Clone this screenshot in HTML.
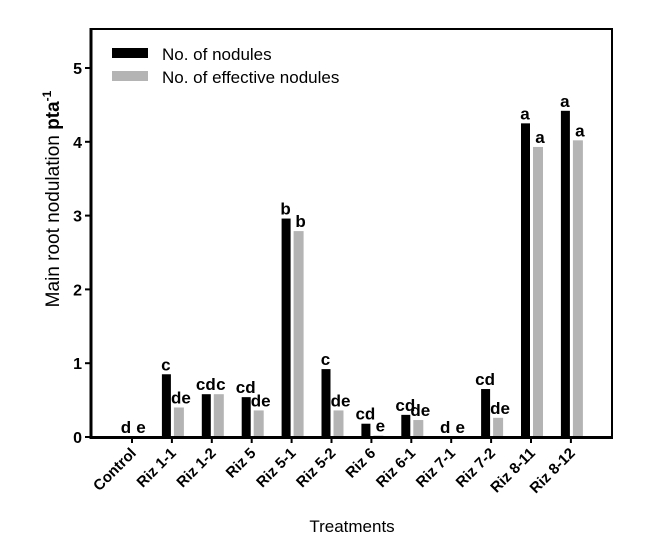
<!DOCTYPE html>
<html><head><meta charset="utf-8"><style>
body{margin:0;background:#fff;}
svg{display:block;font-family:"Liberation Sans",sans-serif;}
</style></head><body>
<svg id="chart" width="650" height="551">
<g id="bars"></g>
<rect x="91" y="29" width="521" height="408" fill="none" stroke="#000" stroke-width="2"/>
<line x1="91" y1="28" x2="91" y2="439" stroke="#000" stroke-width="3"/>
<line x1="90" y1="437.5" x2="613" y2="437.5" stroke="#000" stroke-width="3"/>
<g>
<rect x="112" y="48" width="36" height="10" fill="#000"/>
<text x="162" y="60" font-size="17">No. of nodules</text>
<rect x="112" y="71" width="36" height="10" fill="#b4b4b4"/>
<text x="162" y="83" font-size="17">No. of effective nodules</text>
</g>
<text transform="rotate(-90 59 199)" x="59" y="199" font-size="19" text-anchor="middle">Main root nodulation <tspan font-weight="bold">pta</tspan><tspan font-weight="bold" font-size="12" dy="-8">-1</tspan></text>
<text x="352" y="532" font-size="17" text-anchor="middle">Treatments</text>
<g id="axes"></g>
</svg>
<script>
const categories=["Control","Riz 1-1","Riz 1-2","Riz 5","Riz 5-1","Riz 5-2","Riz 6","Riz 6-1","Riz 7-1","Riz 7-2","Riz 8-11","Riz 8-12"];
const nodules=[0,0.85,0.58,0.54,2.96,0.92,0.18,0.30,0,0.65,4.25,4.42];
const effective=[0,0.40,0.58,0.36,2.79,0.36,0.02,0.23,0,0.26,3.93,4.02];
const nodLetters=["d","c","cd","cd","b","c","cd","cd","d","cd","a","a"];
const effLetters=["e","de","c","de","b","de","e","de","e","de","a","a"];
const yTicks=[0,1,2,3,4,5];
const NS="http://www.w3.org/2000/svg";
const svg=document.getElementById('axes');
const X0=91,Y0=437;
const y=v=>Y0-v*73.8;
const xt=i=>132+i*39.9;
function mk(t,a,p){const e=document.createElementNS(NS,t);for(const k in a)e.setAttribute(k,a[k]);(p||svg).appendChild(e);return e;}
const bars=document.getElementById('bars');
categories.forEach((c,i)=>{
  const t=xt(i);
  const b=mk('rect',{x:t-10,y:y(nodules[i]),width:9,height:Y0-y(nodules[i]),fill:'#000'},bars);
  
  
  const g=mk('rect',{x:t+2,y:y(effective[i]),width:10,height:Y0-y(effective[i]),fill:'#b4b4b4'},bars);
  
  
  const l1=mk('text',{x:t-6,y:y(nodules[i])-4,'font-size':17,'font-weight':'bold','text-anchor':'middle'},bars);
  l1.textContent=nodLetters[i];
  
  
  const l2=mk('text',{x:t+9,y:y(effective[i])-4,'font-size':17,'font-weight':'bold','text-anchor':'middle'},bars);
  l2.textContent=effLetters[i];
  
  
  const tk=mk('line',{x1:t,x2:t,y1:Y0,y2:Y0+6,stroke:'#000','stroke-width':2});
  
  
  const lb=mk('text',{x:t+5,y:Y0+17,'font-size':15,'font-weight':'bold','text-anchor':'end',transform:`rotate(-45 ${t+5} ${Y0+17})`});
  lb.textContent=c;
  
  
});
yTicks.forEach(v=>{
  const tk=mk('line',{x1:X0-6,x2:X0,y1:y(v),y2:y(v),stroke:'#000','stroke-width':2});
  
  
  const lb=mk('text',{x:X0-9,y:y(v)+6,'font-size':16,'font-weight':'bold','text-anchor':'end'});
  lb.textContent=v;
  
  
});
</script>
</body></html>
